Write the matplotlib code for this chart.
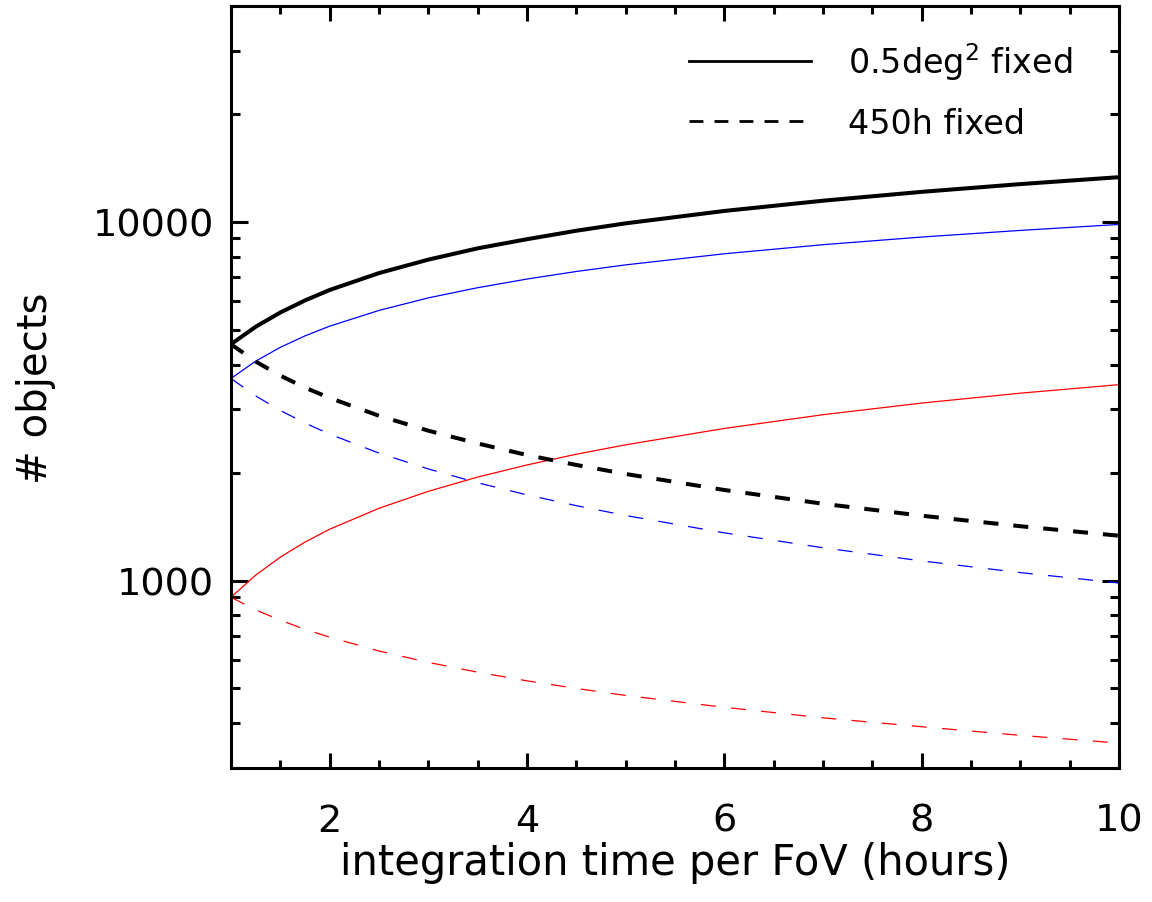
import numpy as np
import matplotlib
matplotlib.use("Agg")
import matplotlib.pyplot as plt
from matplotlib.ticker import MultipleLocator, LogLocator, FuncFormatter, NullFormatter
from matplotlib.lines import Line2D

plt.rcParams["font.family"] = "DejaVu Sans"
plt.rcParams["lines.scale_dashes"] = False

# integration time per field of view (hours)
t_hours = [1, 1.25, 1.5, 1.75, 2, 2.5, 3, 3.5, 4, 4.5, 5, 6, 7, 8, 9, 10]

# number of detected objects: solid = 0.5 deg^2 survey, dashed = 450 h survey
black_area = [4560, 5100, 5590, 6040, 6460, 7200, 7850, 8440, 8950, 9450,
              9910, 10730, 11460, 12130, 12750, 13330]
black_time = [4560, 4080, 3727, 3451, 3230, 2880, 2617, 2411, 2238, 2100,
              1982, 1788, 1637, 1516, 1417, 1333]
blue_area = [3660, 4090, 4470, 4810, 5120, 5665, 6140, 6555, 6930, 7275,
             7590, 8150, 8640, 9075, 9470, 9840]
blue_time = [3660, 3272, 2980, 2749, 2560, 2266, 2047, 1873, 1733, 1617,
             1518, 1358, 1234, 1134, 1052, 984]
red_area = [898, 1035, 1162, 1280, 1390, 1590, 1773, 1943, 2100, 2250,
            2390, 2655, 2900, 3125, 3330, 3517]
red_time = [898, 828, 775, 731, 695, 636, 591, 555, 525, 500,
            478, 443, 414, 391, 370, 352]

legend_labels = ["0.5deg$^2$ fixed", "450h fixed"]

fig = plt.figure(figsize=(11.52, 9.03), dpi=100)
ax = fig.add_axes([0.2005, 0.1484, 0.7709, 0.8438])

dash_thick = (0, (10.8, 10.8))
dash_thin = (0, (10.8, 11.0))

ax.plot(t_hours, red_area, color="#ff0000", lw=0.9)
ax.plot(t_hours, red_time, color="#ff0000", lw=0.9, ls=dash_thin)
ax.plot(t_hours, blue_area, color="#0000ff", lw=0.9)
ax.plot(t_hours, blue_time, color="#0000ff", lw=0.9, ls=dash_thin)
ax.plot(t_hours, black_area, color="black", lw=2.9)
ax.plot(t_hours, black_time, color="black", lw=2.9, ls=dash_thick)

ax.set_yscale("log")
ax.set_xlim(1, 10)
ax.set_ylim(300, 40000)

ax.xaxis.set_major_locator(MultipleLocator(2))
ax.xaxis.set_minor_locator(MultipleLocator(0.5))
ax.yaxis.set_major_locator(LogLocator(base=10))
ax.yaxis.set_minor_locator(LogLocator(base=10, subs=np.arange(2, 10)))
ax.yaxis.set_major_formatter(FuncFormatter(lambda v, p: f"{v:.0f}"))
ax.yaxis.set_minor_formatter(NullFormatter())

for sp in ax.spines.values():
    sp.set_linewidth(2.2)
ax.tick_params(which="both", direction="in", top=True, right=True,
               width=2.2, labelsize=27.5)
ax.tick_params(axis="x", which="major", length=10.8, pad=25)
ax.tick_params(axis="x", which="minor", length=5.8)
ax.tick_params(axis="y", which="major", length=12, pad=12)
ax.tick_params(axis="y", which="minor", length=6.5)

ax.set_xlabel("integration time per FoV (hours)", fontsize=30)
ax.set_ylabel("# objects", fontsize=29)
ax.xaxis.set_label_coords(0.5, -0.124)
ax.xaxis.label.set_va("center")
ax.yaxis.set_label_coords(-0.2196, 0.5)
ax.yaxis.label.set_va("center")

handles = [Line2D([], [], color="black", lw=2.0),
           Line2D([], [], color="black", lw=2.0, ls=(0, (10, 8)))]
ax.legend(handles, legend_labels, loc="upper right", frameon=False,
          fontsize=24, handlelength=3.66, handletextpad=1.1, labelspacing=0.75,
          borderpad=0, borderaxespad=0, bbox_to_anchor=(0.947, 0.955))

fig.savefig("out.png", dpi=100)
